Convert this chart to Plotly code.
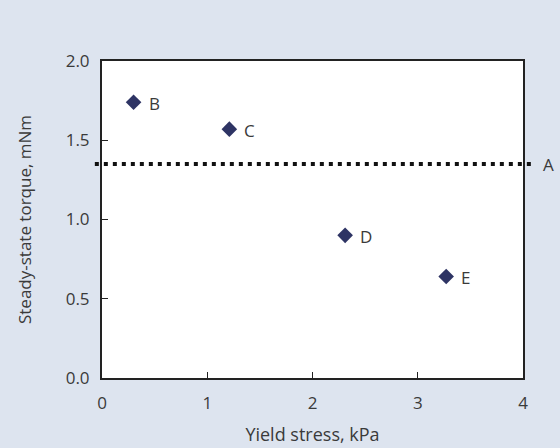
import plotly.graph_objects as go

x_vals = [0.30, 1.21, 2.31, 3.27]
y_vals = [1.74, 1.57, 0.90, 0.64]
labels = ["B", "C", "D", "E"]
line_a_value = 1.35
line_a_label = "A"

x_ticks = [0, 1, 2, 3, 4]
y_ticks = [0.0, 0.5, 1.0, 1.5, 2.0]
y_tick_text = ["0.0", "0.5", "1.0", "1.5", "2.0"]

font_family = "Open Sans, sans-serif"
text_color = "#3a3a3a"
bg = "#dde4ef"

fig = go.Figure()
fig.add_trace(go.Scatter(
    x=x_vals, y=y_vals, mode="markers",
    marker=dict(symbol="diamond", size=12, color="#2e3464"),
    cliponaxis=False, showlegend=False, hoverinfo="skip",
))
for xv, yv, lab in zip(x_vals, y_vals, labels):
    fig.add_annotation(x=xv, y=yv, text=lab, showarrow=False, xanchor="left",
                       xshift=13, yshift=-1,
                       font=dict(family=font_family, size=17, color=text_color))

fig.add_shape(type="line", xref="paper", yref="y",
              x0=-0.017, x1=1.02, y0=line_a_value, y1=line_a_value,
              line=dict(color="#111111", width=4, dash="4px,5px"), layer="above")
fig.add_annotation(xref="paper", yref="y", x=1.043, y=line_a_value,
                   text=line_a_label, showarrow=False, xanchor="left",
                   font=dict(family=font_family, size=17, color=text_color))

axis_common = dict(showline=True, mirror=True, linewidth=2, linecolor="#222222",
                   ticks="inside", ticklen=6, tickwidth=1, tickcolor="#222222",
                   showgrid=False, zeroline=False, automargin=False,
                   tickfont=dict(family=font_family, size=17, color=text_color))

fig.update_xaxes(range=[0, 4], tickvals=x_ticks, ticktext=[str(v) for v in x_ticks],
                 title=dict(text="Yield stress, kPa", standoff=15,
                            font=dict(family=font_family, size=18, color=text_color)),
                 ticklabelstandoff=9, **axis_common)
fig.update_yaxes(range=[0, 2], tickvals=y_ticks, ticktext=y_tick_text,
                 title=dict(text="Steady-state torque, mNm", standoff=30,
                            font=dict(family=font_family, size=17, color=text_color)),
                 ticklabelstandoff=7, **axis_common)

fig.update_layout(
    width=560, height=448,
    margin=dict(l=102, r=37, t=61, b=70),
    paper_bgcolor=bg, plot_bgcolor="white",
    font=dict(family=font_family, color=text_color),
)

fig.write_html("out.html", config={"displayModeBar": False},
               post_script="document.body.style.margin='0';document.body.style.overflow='hidden';")
